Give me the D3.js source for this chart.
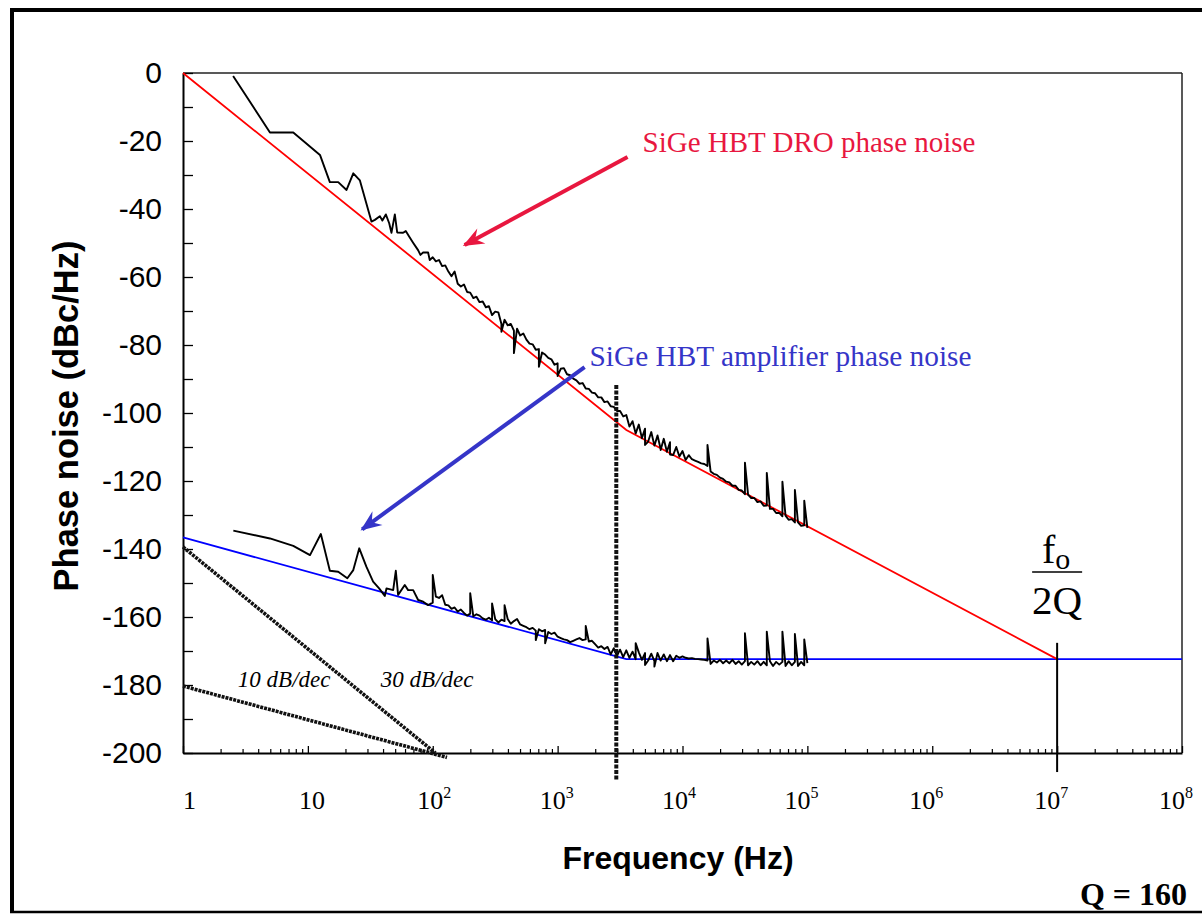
<!DOCTYPE html>
<html><head><meta charset="utf-8">
<script src="https://cdn.jsdelivr.net/npm/d3@7"></script>
<style>body{margin:0;background:#fff} svg{display:block}</style>
</head><body>
<svg id="chart" width="1202" height="915"></svg>
<script>
// ---------- DATA ----------
// DRO measured phase noise, low-frequency part (Hz, dBc/Hz)
const droLowFreq  = [2.52,4.97,7.64,12.5,15.0,17.5,20.4,23.1,26.1,32.3,34.4,37.7,39.5,42.1,44.8,46.7,49.7,51.9,57.9,60.8,64.7,69.6,76.3,79.7,83.7,91.8,94.6];
const droLowNoise = [-0.9,-17.5,-17.5,-24.1,-32.1,-32.1,-34.4,-29.5,-31.6,-43.7,-43.2,-42.1,-43.4,-41.6,-44.2,-47.0,-41.6,-46.9,-47.0,-46.5,-48.1,-49.9,-52.1,-53.5,-52.8,-52.8,-55.0];
// Amplifier measured phase noise, low-frequency part
const ampLowFreq  = [2.53,4.97,7.64,10.4,12.7,15.0,17.5,20.7,23.1,25.8,29.4,33.3,37.2,41.3,42.6,48.2,50.6,52.8,59.7,63.5,69.7,76.4,83.8,91.8];
const ampLowNoise = [-134.6,-136.9,-139.1,-141.8,-135.6,-146.4,-146.7,-148.6,-146.2,-139.8,-145.2,-149.6,-151.6,-153.8,-151.6,-152.1,-146.4,-153.5,-150.6,-152.1,-152.1,-155.0,-155.5,-156.5];
// Dense measurement frequencies (100 Hz .. 100 kHz)
const measFreq = [100,105.9,112.2,118.9,125.9,133.4,141.3,149.6,158.5,167.9,177.8,188.4,199.5,211.3,223.9,237.1,251.2,266.1,281.8,298.5,316.2,335,354.8,375.8,398.1,421.7,446.7,473.2,501.2,530.9,562.3,595.7,631,668.3,707.9,749.9,794.3,841.4,891.3,944.1,
1000,1059,1122,1189,1259,1334,1413,1496,1585,1679,1778,1884,1995,2113,2239,2371,2512,2661,2818,2985,3162,3350,3548,3758,3981,4217,4467,4732,5012,5309,5623,5957,6310,6683,7079,7499,7943,8414,8913,9441,
10000,10590,11220,11890,12590,13340,14130,14960,15850,16790,17780,18840,19950,21130,22390,23710,25120,26610,28180,29850,31620,33500,35480,37580,39810,42170,44670,47320,50120,53090,56230,59570,63100,66830,70790,74990,79430,84140,89130,94410,100000];
const droMeasNoise = [-54.2,-55.4,-55.0,-56.8,-56.6,-58.4,-59.8,-58.4,-62.0,-62.8,-62.2,-64.4,-64.6,-66.2,-65.8,-67.4,-67.2,-68.9,-68.6,-71.2,-70.2,-70.4,-73.8,-72.6,-74.2,-73.8,-75.8,-75.2,-77.2,-76.6,-78.4,-79.6,-79.8,-81.4,-81.2,-82.2,-82.8,-83.8,-84.2,-85.8,
-85.4,-87.0,-86.8,-88.6,-88.9,-89.9,-90.4,-91.4,-91.2,-92.8,-92.9,-94.0,-94.2,-95.4,-95.4,-96.8,-96.6,-98.0,-98.2,-99.4,-99.4,-101.0,-100.6,-104.0,-102.4,-106.0,-103.4,-107.4,-104.6,-108.4,-105.6,-109.6,-106.6,-110.6,-107.6,-111.4,-108.6,-112.4,-110.0,-112.8,
-111.2,-113.8,-112.4,-113.6,-114.0,-114.4,-114.8,-115.0,-115.6,-117.2,-117.9,-118.2,-119.0,-119.4,-120.2,-120.4,-121.4,-121.4,-122.6,-122.8,-123.9,-124.0,-125.0,-125.0,-126.2,-126.0,-127.3,-127.2,-128.2,-128.2,-129.4,-129.4,-130.4,-130.2,-131.4,-131.2,-132.2,-132.2,-133.2,-133.0,-133.8];
const ampMeasNoise = [-155.8,-154.0,-154.4,-153.6,-156.4,-156.6,-157.6,-157.2,-158.4,-157.8,-158.8,-159.6,-159.0,-159.8,-159.2,-159.6,-160.4,-160.8,-160.2,-161.0,-160.6,-161.6,-160.8,-161.2,-160.6,-162.0,-161.2,-160.6,-162.2,-162.6,-163.0,-163.6,-163.2,-164.0,-163.6,-164.2,-163.8,-164.4,-165.0,-164.6,
-165.8,-166.2,-166.6,-166.8,-167.4,-167.0,-166.6,-166.2,-166.8,-166.6,-167.2,-167.0,-168.0,-169.0,-168.6,-169.4,-168.8,-171.0,-169.2,-171.4,-169.6,-171.8,-169.8,-172.0,-170.2,-172.4,-170.4,-172.6,-170.6,-172.8,-170.8,-173.0,-170.6,-172.8,-171.0,-173.0,-171.2,-173.0,-171.4,-172.0,
-171.6,-172.0,-172.2,-172.1,-172.3,-172.4,-172.5,-172.6,-172.8,-173.8,-172.8,-173.4,-172.6,-173.6,-172.8,-173.6,-172.6,-173.8,-173.0,-174.0,-173.0,-174.2,-173.2,-174.0,-173.0,-174.2,-173.2,-174.2,-173.0,-174.4,-173.2,-174.0,-173.2,-174.4,-173.0,-174.2,-173.2,-174.4,-173.2,-174.2,-173.6];
// Spurs / single-bin excursions
const droSpurFreq  = [354.8,446.7,707.9,1000,5012,6683,7943,15850,31620,47320,63100,79430,94410];
const droSpurNoise = [-76.1,-82.4,-86.4,-89.1,-109.4,-110.9,-112.2,-109.4,-114.6,-117.6,-120.2,-122.6,-125.8];
const ampSpurFreq  = [100,199.5,298.5,375.8,668.3,794.3,1679,4217,5012,5957,15850,31620,47320,63100,79430,94410];
const ampSpurNoise = [-147.6,-153.0,-156.0,-156.5,-166.8,-167.7,-162.6,-167.7,-174.1,-174.6,-166.3,-164.8,-164.3,-164.3,-165.0,-166.6];
// Asymptotic models
const droModelFreq = [1,3550,1e7];
const droModelNoise = [0,-105,-172.4];
const ampModelFreq = [1,3550,1e8];
const ampModelNoise = [-136.6,-172.4,-172.4];
// Slope reference lines
const slope30Freq = [1,105];
const slope30Noise = [-139.4,-200];
const slope10Freq = [1,130];
const slope10Noise = [-180.3,-201.3];
// Markers
const cornerFreq = 2950, cornerSpan = [-91.8,-208];
const halfBwFreq = 1e7, halfBwSpan = [-167.6,-205.6];
// Axes
const yTickValues = [0,-20,-40,-60,-80,-100,-120,-140,-160,-180,-200];
const xDecadeExps = [0,1,2,3,4,5,6,7,8];
const xTickLabels = ["1","10","10|2","10|3","10|4","10|5","10|6","10|7","10|8"];

// ---------- DRAW ----------
const svg = d3.select('#chart');
const x = d3.scaleLog().domain([1,1e8]).range([183,1182]);
const y = d3.scaleLinear().domain([-200,0]).range([753,73]);
const serif = "'Liberation Serif','Times New Roman',Times,serif";
const sans = "'Liberation Sans',Arial,Helvetica,sans-serif";
const RED_TXT = '#e8173f', BLUE_TXT = '#3535c8';

// outer frame
svg.append('line').attr('x1',12).attr('y1',8).attr('x2',12).attr('y2',913).attr('stroke','#000').attr('stroke-width',4);
svg.append('line').attr('x1',10).attr('y1',10).attr('x2',1202).attr('y2',10).attr('stroke','#000').attr('stroke-width',4);
svg.append('line').attr('x1',10).attr('y1',912).attr('x2',1202).attr('y2',912).attr('stroke','#000').attr('stroke-width',2.5);

// plot box top/right
svg.append('line').attr('x1',x(1)).attr('x2',x(1e8)).attr('y1',y(0)).attr('y2',y(0)).attr('stroke','#222').attr('stroke-width',1.5);
svg.append('line').attr('x1',x(1e8)).attr('x2',x(1e8)).attr('y1',y(0)).attr('y2',y(-200)).attr('stroke','#222').attr('stroke-width',1.5);

// Y axis
const yAxis = d3.axisLeft(y).tickValues(d3.range(-200,1,10)).tickSizeInner(-10).tickSizeOuter(0).tickPadding(21)
  .tickFormat(d => yTickValues.includes(d) ? String(d) : '');
const gy = svg.append('g').attr('transform',`translate(${x(1)},0)`).call(yAxis);
gy.select('.domain').attr('stroke','#000').attr('stroke-width',2);
gy.selectAll('.tick line').attr('stroke','#000').attr('stroke-width',1.3);
gy.selectAll('.tick text').attr('font-family',sans).attr('font-size',30).attr('fill','#000');

// X axis (minor + major ticks)
const minorVals = [];
xDecadeExps.forEach(e => { if (e < 8) for (let m = 2; m <= 9; m++) minorVals.push(m * Math.pow(10, e)); });
const gx = svg.append('g').attr('transform',`translate(0,${y(-200)})`);
gx.call(d3.axisBottom(x).tickValues(minorVals).tickSizeInner(-4).tickSizeOuter(0).tickFormat(''));
gx.call(g => g.select('.domain').attr('stroke','#000').attr('stroke-width',2));
gx.selectAll('.tick line').attr('stroke','#000').attr('stroke-width',1.2);
const gxMaj = svg.append('g').attr('transform',`translate(0,${y(-200)})`)
  .call(d3.axisBottom(x).tickValues(xDecadeExps.map(e => Math.pow(10,e))).tickSizeInner(-7).tickSizeOuter(0).tickFormat(''));
gxMaj.select('.domain').remove();
gxMaj.selectAll('.tick line').attr('stroke','#000').attr('stroke-width',1.3);

// X tick labels
xDecadeExps.forEach((e,i) => {
  const parts = xTickLabels[i].split('|');
  const dx = Math.max(-6, 4 - 2.5 * (e - 1));
  const t = svg.append('text').attr('x', x(Math.pow(10,e)) + dx).attr('y', 809)
    .attr('text-anchor','middle').attr('font-family',serif).attr('font-size',26).attr('fill','#000');
  t.append('tspan').text(parts[0]);
  if (parts.length > 1) t.append('tspan').attr('font-size',16).attr('dy',-11).text(parts[1]);
});

// axis titles
svg.append('text').attr('transform','translate(78,416) rotate(-90)').attr('text-anchor','middle')
  .attr('font-family',sans).attr('font-weight','bold').attr('font-size',34.5).attr('fill','#000').text('Phase noise (dBc/Hz)');
svg.append('text').attr('x',678).attr('y',869).attr('text-anchor','middle')
  .attr('font-family',sans).attr('font-weight','bold').attr('font-size',32).attr('fill','#000').text('Frequency (Hz)');

// line generator
const line = d3.line().x(d => x(d[0])).y(d => y(d[1]));
const zip = (a,b) => a.map((v,i) => [v,b[i]]);

// models
svg.append('path').datum(zip(ampModelFreq,ampModelNoise)).attr('d',line).attr('fill','none').attr('stroke','#0000ff').attr('stroke-width',1.8);
svg.append('path').datum(zip(droModelFreq,droModelNoise)).attr('d',line).attr('fill','none').attr('stroke','#ff0000').attr('stroke-width',1.8);

// slope reference lines
[[slope30Freq,slope30Noise],[slope10Freq,slope10Noise]].forEach(([f,v]) => {
  svg.append('path').datum(zip(f,v)).attr('d',line).attr('fill','none').attr('stroke','#111')
    .attr('stroke-width',3.6).attr('stroke-dasharray','3,1');
});

// measured traces
function trace(lowF, lowV, measV, spurF, spurV) {
  const pts = zip(lowF,lowV).concat(zip(measFreq,measV)).map(p => [p[0],p[1],0])
    .concat(zip(spurF,spurV).map(p => [p[0],p[1],1]));
  pts.sort((a,b) => a[0]-b[0] || a[2]-b[2]);
  return pts;
}
svg.append('path').datum(trace(droLowFreq,droLowNoise,droMeasNoise,droSpurFreq,droSpurNoise)).attr('d',line)
  .attr('fill','none').attr('stroke','#000').attr('stroke-width',1.9).attr('stroke-linejoin','round');
svg.append('path').datum(trace(ampLowFreq,ampLowNoise,ampMeasNoise,ampSpurFreq,ampSpurNoise)).attr('d',line)
  .attr('fill','none').attr('stroke','#000').attr('stroke-width',1.9).attr('stroke-linejoin','round');

// vertical markers
svg.append('line').attr('x1',x(cornerFreq)).attr('x2',x(cornerFreq)).attr('y1',y(cornerSpan[0])).attr('y2',y(cornerSpan[1]))
  .attr('stroke','#111').attr('stroke-width',4).attr('stroke-dasharray','4,1.5');
svg.append('line').attr('x1',x(halfBwFreq)).attr('x2',x(halfBwFreq)).attr('y1',y(halfBwSpan[0])).attr('y2',y(halfBwSpan[1]))
  .attr('stroke','#000').attr('stroke-width',2);

// annotations
const defs = svg.append('defs');
function marker(id,color){
  defs.append('marker').attr('id',id).attr('markerUnits','userSpaceOnUse').attr('viewBox','-22 -10 24 20')
    .attr('refX',-2).attr('refY',0).attr('markerWidth',24).attr('markerHeight',20).attr('orient','auto')
    .append('path').attr('d','M0,0 L-21,-8.5 L-14,0 L-21,8.5 Z').attr('fill',color);
}
marker('arrR',RED_TXT); marker('arrB',BLUE_TXT);
const droArrow = [[3630,-24.7],[180,-50.6]];
const ampArrow = [[1644,-86.5],[27.2,-134.2]];
svg.append('line').attr('x1',x(droArrow[0][0])).attr('y1',y(droArrow[0][1])).attr('x2',x(droArrow[1][0])).attr('y2',y(droArrow[1][1]))
  .attr('stroke',RED_TXT).attr('stroke-width',4).attr('marker-end','url(#arrR)');
svg.append('line').attr('x1',x(ampArrow[0][0])).attr('y1',y(ampArrow[0][1])).attr('x2',x(ampArrow[1][0])).attr('y2',y(ampArrow[1][1]))
  .attr('stroke',BLUE_TXT).attr('stroke-width',4).attr('marker-end','url(#arrB)');

svg.append('text').attr('x',x(4786)).attr('y',y(-23.2)).attr('font-family',serif).attr('font-size',29).attr('fill',RED_TXT).text('SiGe HBT DRO phase noise');
svg.append('text').attr('x',x(1803)).attr('y',y(-86.2)).attr('font-family',serif).attr('font-size',29.3).attr('fill',BLUE_TXT).text('SiGe HBT amplifier phase noise');
svg.append('text').attr('x',x(2.75)).attr('y',y(-180.6)).attr('font-family',serif).attr('font-style','italic').attr('font-size',23).attr('fill','#000').text('10 dB/dec');
svg.append('text').attr('x',x(38.4)).attr('y',y(-180.6)).attr('font-family',serif).attr('font-style','italic').attr('font-size',23).attr('fill','#000').text('30 dB/dec');

// f0/2Q
const fx = x(halfBwFreq);
const ft = svg.append('text').attr('x',fx-1).attr('y',y(-144.1)).attr('text-anchor','middle').attr('font-family',serif).attr('font-size',40).attr('fill','#000');
ft.append('tspan').text('f');
ft.append('tspan').attr('font-size',30).attr('dy',6).text('o');
svg.append('line').attr('x1',fx-25).attr('x2',fx+25).attr('y1',y(-146.8)).attr('y2',y(-146.8)).attr('stroke','#000').attr('stroke-width',1.5);
svg.append('text').attr('x',fx).attr('y',y(-159.2)).attr('text-anchor','middle').attr('font-family',serif).attr('font-size',41).attr('fill','#000').text('2Q');

svg.append('text').attr('x',1187).attr('y',905).attr('text-anchor','end').attr('font-family',serif).attr('font-weight','bold').attr('font-size',32).attr('fill','#000').text('Q = 160');
</script>
</body></html>
